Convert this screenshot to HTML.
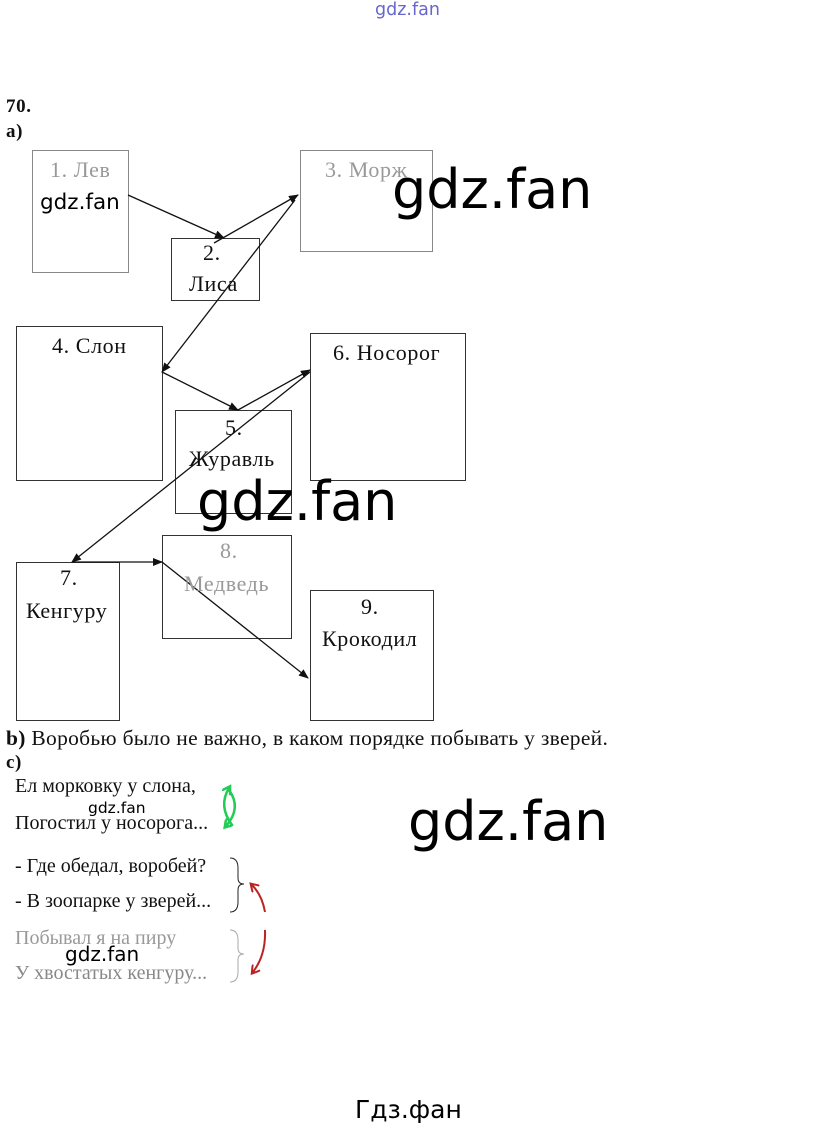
<!DOCTYPE html><html><head><meta charset="utf-8"><style>
body{margin:0;background:#fff;width:815px;height:1129px;overflow:hidden;position:relative;font-family:"Liberation Serif",serif}
.t{position:absolute;font-size:22px;color:#111;white-space:nowrap;letter-spacing:0.6px}
.c{font-size:20px;letter-spacing:0}
.w{position:absolute;font-family:"DejaVu Sans",sans-serif;color:#000;white-space:nowrap}
</style></head><body>
<svg width="815" height="1129" style="position:absolute;left:0;top:0">
<defs><marker id="a" markerWidth="10" markerHeight="8" refX="9" refY="4" orient="auto" markerUnits="userSpaceOnUse"><path d="M0,0L10,4L0,8z" fill="#111"/></marker>
<marker id="g" markerWidth="12" markerHeight="10" refX="6" refY="5" orient="auto" markerUnits="userSpaceOnUse"><path d="M0,0L8,5L0,10" fill="none" stroke="#2c5" stroke-width="2.5"/></marker>
<marker id="r" markerWidth="12" markerHeight="10" refX="6" refY="5" orient="auto" markerUnits="userSpaceOnUse"><path d="M0,0L8,5L0,10" fill="none" stroke="#b22" stroke-width="2"/></marker></defs>
<g fill="none" stroke="#333" stroke-width="1">
<rect x="32.5" y="150.5" width="96" height="122" stroke="#888"/>
<rect x="171.5" y="238.5" width="88" height="62"/>
<rect x="300.5" y="150.5" width="132" height="101" stroke="#888"/>
<rect x="16.5" y="326.5" width="146" height="154"/>
<rect x="175.5" y="410.5" width="116" height="103"/>
<rect x="310.5" y="333.5" width="155" height="147"/>
<rect x="16.5" y="562.5" width="103" height="158"/>
<rect x="162.5" y="535.5" width="129" height="103"/>
<rect x="310.5" y="590.5" width="123" height="130"/>
</g>
<g stroke="#111" stroke-width="1.3" fill="none" marker-end="url(#a)">
<line x1="128" y1="195" x2="224" y2="238"/>
<line x1="214" y1="243" x2="298" y2="195"/>
<line x1="295" y1="200" x2="162" y2="372"/>
<line x1="162" y1="372" x2="238" y2="410"/>
<line x1="238" y1="410" x2="310" y2="370"/>
<line x1="310" y1="372" x2="72" y2="562"/>
<line x1="72" y1="562" x2="162" y2="562"/>
<line x1="162" y1="562" x2="308" y2="678"/>
</g>
<path d="M232,825 Q218,806 229,788" stroke="#2c5" stroke-width="2.5" fill="none" marker-end="url(#g)"/>
<path d="M229,790 Q242,808 226,826" stroke="#2c5" stroke-width="2.5" fill="none" marker-end="url(#g)"/>
<path d="M265,912 Q262,895 252,885" stroke="#b22" stroke-width="2" fill="none" marker-end="url(#r)"/>
<path d="M265,930 Q266,955 253,972" stroke="#b22" stroke-width="2" fill="none" marker-end="url(#r)"/>
<path d="M230,858 q8,0 8,10 v10 q0,6 6,6 q-6,0 -6,6 v12 q0,10 -8,10" stroke="#222" fill="none"/>
<path d="M230,930 q8,0 8,10 v8 q0,6 6,6 q-6,0 -6,6 v12 q0,10 -8,10" stroke="#aaa" fill="none"/>
</svg>
<div class="w" style="left:375px;top:0;font-size:17.5px;color:#66c">gdz.fan</div>
<div class="t" style="left:6px;top:96px;font-weight:bold;font-size:19px">70.</div>
<div class="t" style="left:6px;top:121px;font-weight:bold;font-size:19px">a)</div>
<div class="t" style="left:50px;top:157px;color:#999">1. Лев</div>
<div class="w" style="left:40px;top:190px;font-size:21.5px">gdz.fan</div>
<div class="t" style="left:203px;top:240px">2.</div>
<div class="t" style="left:189px;top:271px">Лиса</div>
<div class="t" style="left:325px;top:157px;color:#999">3. Морж</div>
<div class="w" style="left:392px;top:158px;font-size:54px">gdz.fan</div>
<div class="t" style="left:52px;top:333px">4. Слон</div>
<div class="t" style="left:333px;top:340px">6. Носорог</div>
<div class="t" style="left:225px;top:415px">5.</div>
<div class="t" style="left:189px;top:446px">Журавль</div>
<div class="w" style="left:197px;top:470px;font-size:54px">gdz.fan</div>
<div class="t" style="left:220px;top:538px;color:#999">8.</div>
<div class="t" style="left:184px;top:571px;color:#999">Медведь</div>
<div class="t" style="left:60px;top:565px">7.</div>
<div class="t" style="left:26px;top:598px">Кенгуру</div>
<div class="t" style="left:361px;top:594px">9.</div>
<div class="t" style="left:322px;top:626px">Крокодил</div>
<div class="t" style="left:6px;top:726px;font-size:21.5px;letter-spacing:0.3px"><b>b)</b> Воробью было не важно, в каком порядке побывать у зверей.</div>
<div class="t" style="left:6px;top:752px;font-weight:bold;font-size:19px">c)</div>
<div class="t c" style="left:15px;top:775px">Ел морковку у слона,</div>
<div class="w" style="left:88px;top:799px;font-size:15.5px">gdz.fan</div>
<div class="t c" style="left:15px;top:812px">Погостил у носорога...</div>
<div class="w" style="left:408px;top:790px;font-size:54px">gdz.fan</div>
<div class="t c" style="left:15px;top:855px">- Где обедал, воробей?</div>
<div class="t c" style="left:15px;top:890px">- В зоопарке у зверей...</div>
<div class="t c" style="left:15px;top:927px;color:#999">Побывал я на пиру</div>
<div class="w" style="left:65px;top:942px;font-size:20px">gdz.fan</div>
<div class="t c" style="left:15px;top:962px;color:#888">У хвостатых кенгуру...</div>
<div class="w" style="left:355px;top:1095px;font-size:25px">Гдз.фан</div>
</body></html>
